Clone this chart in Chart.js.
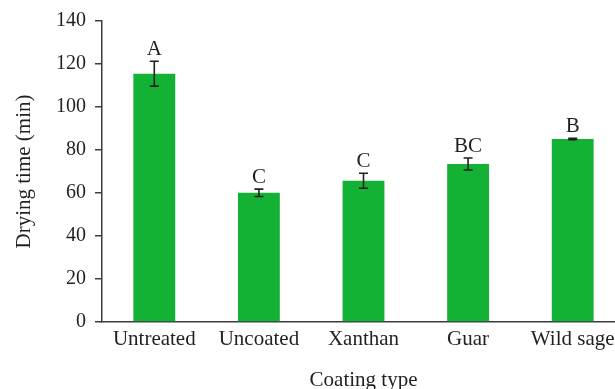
<!DOCTYPE html>
<html>
<head>
<meta charset="utf-8">
<title>Drying time by coating type</title>
<script src="https://cdn.jsdelivr.net/npm/chart.js@4/dist/chart.umd.min.js"></script>
<style>
  html, body { margin: 0; padding: 0; background: #ffffff; overflow: hidden; }
  canvas { display: block; }
</style>
</head>
<body>
<canvas id="chart" width="625" height="389"></canvas>
<script>
// Mean drying time per coating treatment, with standard deviation and grouping letters
const categories = ['Untreated', 'Uncoated', 'Xanthan', 'Guar', 'Wild sage'];
const dryingTime = [115.5, 60.1, 65.7, 73.5, 85.1];
const errorSize = [5.8, 1.7, 3.5, 2.8, 0.3];
const groupLetters = ['A', 'C', 'C', 'BC', 'B'];
const yTicks = [0, 20, 40, 60, 80, 100, 120, 140];

const INK = '#231f20';
const AXIS = '#3c3c3c';
const FONT = "'Liberation Serif', 'DejaVu Serif', serif";

// Draws error bars and significance letters from the bar scale values
const errorBarPlugin = {
  id: 'errorBars',
  afterDatasetsDraw(chart) {
    const ctx = chart.ctx;
    const yScale = chart.scales.y;
    const meta = chart.getDatasetMeta(0);
    ctx.save();
    ctx.strokeStyle = INK;
    ctx.lineWidth = 1.6;
    meta.data.forEach((bar, i) => {
      const x = bar.x;
      const yHi = yScale.getPixelForValue(dryingTime[i] + errorSize[i]);
      const yLo = yScale.getPixelForValue(dryingTime[i] - errorSize[i]);
      const cap = 4.5;
      ctx.beginPath();
      ctx.moveTo(x, yHi); ctx.lineTo(x, yLo);
      ctx.moveTo(x - cap, yHi); ctx.lineTo(x + cap, yHi);
      ctx.moveTo(x - cap, yLo); ctx.lineTo(x + cap, yLo);
      ctx.stroke();

      ctx.fillStyle = INK;
      ctx.font = '21px ' + FONT;
      ctx.textAlign = 'center';
      ctx.textBaseline = 'alphabetic';
      ctx.fillText(groupLetters[i], x, yHi - 6);
    });
    ctx.restore();
  }
};

new Chart(document.getElementById('chart'), {
  type: 'bar',
  data: {
    labels: categories,
    datasets: [{
      data: dryingTime,
      backgroundColor: '#13b134',
      borderWidth: 0,
      barPercentage: 0.4,
      categoryPercentage: 1.0
    }]
  },
  options: {
    responsive: false,
    animation: false,
    layout: { padding: { top: 21, right: 0, left: 0, bottom: 0 } },
    plugins: {
      legend: { display: false },
      tooltip: { enabled: false }
    },
    scales: {
      x: {
        grid: { display: true, drawOnChartArea: false, drawTicks: false, tickLength: 0 },
        border: { display: true, color: AXIS, width: 1.5 },
        ticks: {
          color: INK,
          font: { family: FONT, size: 21 },
          padding: 5,
          maxRotation: 0,
          autoSkip: false
        },
        title: {
          display: true,
          text: 'Coating type',
          color: INK,
          font: { family: FONT, size: 21, lineHeight: 0.8 },
          padding: { top: 0, bottom: 0 }
        },
        afterFit(scale) { scale.height = 67; }
      },
      y: {
        min: 0,
        max: 140,
        afterBuildTicks(scale) { scale.ticks = yTicks.map(v => ({ value: v })); },
        grid: { display: true, drawOnChartArea: false, drawTicks: true, tickLength: 7, color: AXIS, lineWidth: 1.5 },
        border: { display: true, color: AXIS, width: 1.5 },
        ticks: {
          color: INK,
          font: { family: FONT, size: 20 },
          padding: 9
        },
        title: {
          display: true,
          text: 'Drying time (min)',
          color: INK,
          font: { family: FONT, size: 21 },
          padding: { top: 12, bottom: 0 }
        },
        afterFit(scale) { scale.width = 102; }
      }
    }
  },
  plugins: [errorBarPlugin]
});
</script>
</body>
</html>
